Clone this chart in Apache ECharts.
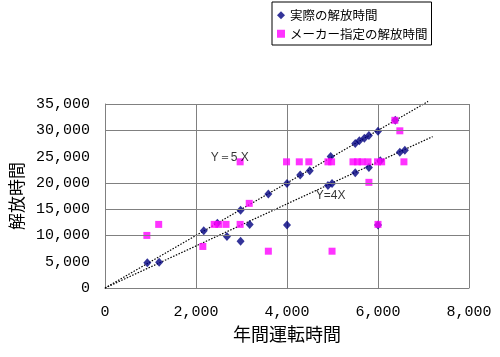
<!DOCTYPE html>
<html><head><meta charset="utf-8">
<script src="https://cdn.jsdelivr.net/npm/echarts@6/dist/echarts.min.js"></script>
<style>html,body{margin:0;padding:0;background:#fff}#c{width:500px;height:357px}</style>
</head><body><div id="c"></div>
<script>
// 実際の解放時間 (actual)
const actualX = [930,1190,2170,2470,2680,2980,2980,3180,3590,4000,4000,4290,4500,4960,4900,4990,5500,5590,5700,5800,6000,5500,5800,6050,6480,6590,6380,6000];
const actualY = [4800,4900,10900,12300,9800,8900,14800,12100,17900,19900,12000,21500,22300,25000,19500,19900,27500,28000,28500,29000,29800,21900,22900,24200,25800,26200,31900,12000];
// メーカー指定の解放時間 (maker specified)
const makerX = [920,1180,2150,2400,2500,2660,2970,3170,3590,2970,3990,4270,4480,4900,4980,5450,5550,5650,5780,5990,6080,6570,6480,6370,5800,6000,4990];
const makerY = [10000,12100,7900,12100,12100,12100,12100,16100,7000,24000,24000,24000,24000,24000,24000,24000,24000,24000,24000,24000,24000,24000,29900,31900,20100,12100,7000];
// reference lines Y=5X and Y=4X
const line5X = [[0,0],[7100,35500]];
const line4X = [[0,0],[7200,28800]];
const lineLabels = [[2740,24800,'Y＝5 X'],[4960,17600,'Y=4X']];
const yGridValues = [10000,15000,20000,30000,35000];
const xTicks = {min:0,max:8000,interval:2000};
const yTicks = {min:0,max:35000,interval:5000};
const seriesNames = ['実際の解放時間','メーカー指定の解放時間'];
const xTitle = '年間運転時間';
const yTitle = '解放時間';

const zip = (xs, ys) => xs.map((x,i)=>[x, ys[i]]);
const fmt = v => String(v).replace(/\B(?=(\d{3})+(?!\d))/g, ',');
const labelFont = 'Liberation Mono';

const chart = echarts.init(document.getElementById('c'), null, {renderer:'canvas'});
chart.setOption({
  animation:false,
  backgroundColor:'#fff',
  grid:{left:101,right:31,top:104,bottom:69},
  legend:{
    data:seriesNames, orient:'vertical', left:272, top:2,
    borderColor:'#000', borderWidth:1, padding:[7,4,5,5], itemGap:6,
    itemWidth:8, itemHeight:8,
    textStyle:{fontSize:12.5, color:'#000', fontFamily:'Noto Sans CJK JP'}
  },
  xAxis:{
    type:'value', min:xTicks.min, max:xTicks.max, interval:xTicks.interval,
    name:xTitle, nameLocation:'middle', nameGap:37,
    nameTextStyle:{fontSize:18, color:'#000', fontFamily:'Noto Sans CJK JP'},
    axisLine:{show:true, lineStyle:{color:'#808080'}},
    axisTick:{show:false},
    splitLine:{show:true, lineStyle:{color:'#808080', width:1}},
    axisLabel:{formatter:fmt, fontSize:15, color:'#000', fontFamily:labelFont, margin:17}
  },
  yAxis:{
    type:'value', min:yTicks.min, max:yTicks.max, interval:yTicks.interval,
    name:yTitle, nameLocation:'middle', nameGap:80, nameRotate:90,
    nameTextStyle:{fontSize:17, color:'#000', fontFamily:'Noto Sans CJK JP'},
    axisLine:{show:true, lineStyle:{color:'#808080'}},
    axisTick:{show:false},
    splitLine:{show:false},
    axisLabel:{formatter:fmt, fontSize:15, color:'#000', fontFamily:labelFont, margin:15}
  },
  series:[
    {type:'line', name:'grid', data:[], z:1, silent:true,
     markLine:{silent:true, symbol:'none', label:{show:false},
       lineStyle:{color:'#808080', width:1, type:'solid'},
       data:yGridValues.map(v=>({yAxis:v}))}},
    {type:'line', name:'5x', data:line5X, showSymbol:false, clip:false, z:2, silent:true,
     lineStyle:{color:'#000', width:1.2, type:[1.5,1.5]}},
    {type:'line', name:'4x', data:line4X, showSymbol:false, clip:false, z:2, silent:true,
     lineStyle:{color:'#000', width:1.2, type:[1.5,1.5]}},
    {type:'scatter', name:seriesNames[0], data:zip(actualX, actualY), symbol:'diamond',
     symbolSize:[8,9], itemStyle:{color:'#000080'}, z:3},
    {type:'scatter', name:seriesNames[1], data:zip(makerX, makerY), symbol:'rect',
     symbolSize:7, itemStyle:{color:'#ff00ff'}, z:4},
    {type:'scatter', name:'labels', data:lineLabels, symbolSize:0, z:5, silent:true,
     label:{show:true, position:'inside', formatter:p=>p.data[2], fontSize:12, color:'#000',
       fontFamily:'Liberation Sans'}}
  ]
});
</script></body></html>
